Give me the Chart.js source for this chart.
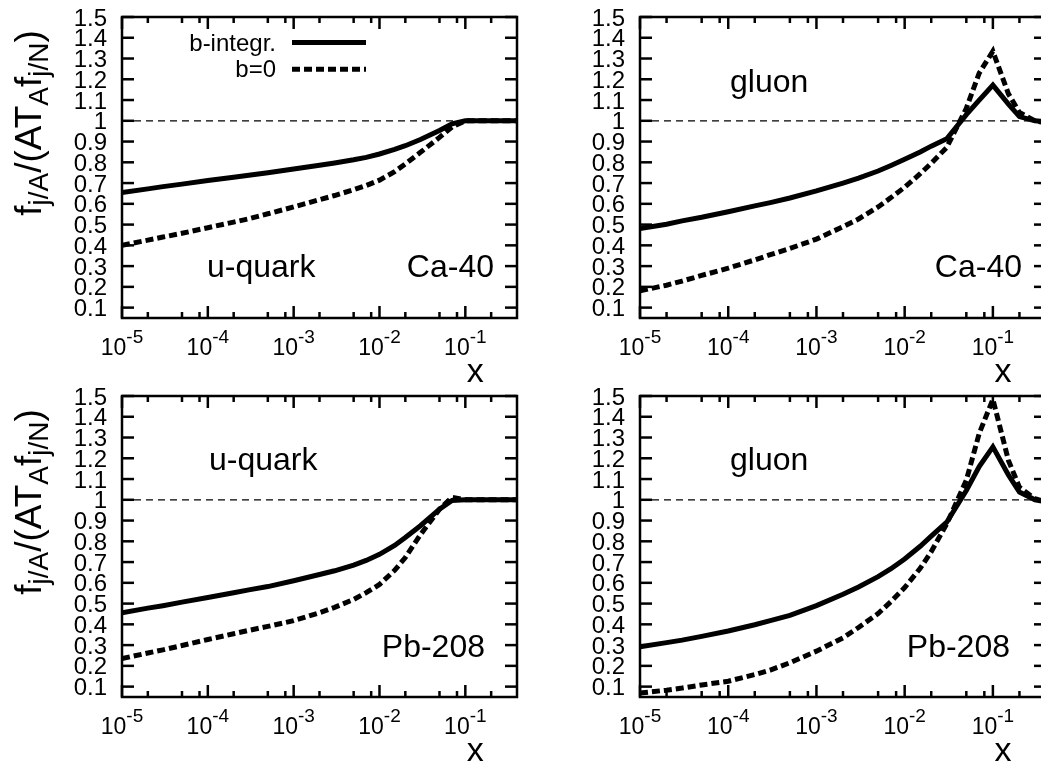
<!DOCTYPE html>
<html>
<head>
<meta charset="utf-8">
<script src="https://cdn.jsdelivr.net/npm/chart.js@4"></script>
<style>
  html, body { margin: 0; padding: 0; background: #fff; overflow: hidden; width: 1041px; height: 763px; }
  canvas { position: absolute; left: 0; top: 0; }
</style>
</head>
<body>
<canvas id="uCa" width="1080" height="763"></canvas>
<canvas id="gCa" width="1080" height="763"></canvas>
<canvas id="uPb" width="1080" height="763"></canvas>
<canvas id="gPb" width="1080" height="763"></canvas>
<script>
// x grid shared by all curves
const xVals = [1e-5, 2e-5, 3e-5, 5e-5, 1e-4, 2e-4, 3e-4, 5e-4, 1e-3, 2e-3, 3e-3, 5e-3, 7e-3, 1e-2, 1.5e-2, 2e-2, 3e-2, 5e-2, 7e-2, 0.1, 0.15, 0.2, 0.3, 0.4];

// u-quark, Ca-40
const uCaIntegr = [0.655, 0.672, 0.683, 0.695, 0.712, 0.728, 0.738, 0.750, 0.768, 0.786, 0.797, 0.812, 0.824, 0.840, 0.862, 0.880, 0.910, 0.953, 0.985, 1.0, 1.0, 1.0, 1.0, 1.0];
const uCaB0     = [0.400, 0.425, 0.440, 0.458, 0.485, 0.512, 0.528, 0.552, 0.585, 0.620, 0.640, 0.668, 0.688, 0.714, 0.755, 0.792, 0.848, 0.920, 0.970, 1.0, 1.0, 1.0, 1.0, 1.0];
// gluon, Ca-40
const gCaIntegr = [0.481, 0.502, 0.518, 0.535, 0.562, 0.590, 0.606, 0.628, 0.662, 0.700, 0.724, 0.758, 0.785, 0.815, 0.850, 0.878, 0.913, 1.030, 1.100, 1.172, 1.080, 1.020, 1.0, 0.995];
const gCaB0     = [0.181, 0.208, 0.228, 0.255, 0.290, 0.330, 0.355, 0.385, 0.430, 0.490, 0.527, 0.585, 0.630, 0.680, 0.745, 0.795, 0.872, 1.060, 1.230, 1.335, 1.130, 1.040, 1.0, 0.99];
// u-quark, Pb-208
const uPbIntegr = [0.456, 0.478, 0.490, 0.507, 0.529, 0.552, 0.566, 0.582, 0.610, 0.640, 0.658, 0.685, 0.708, 0.737, 0.780, 0.818, 0.875, 0.955, 0.997, 1.0, 1.0, 1.0, 1.0, 1.0];
const uPbB0     = [0.235, 0.262, 0.277, 0.298, 0.327, 0.355, 0.371, 0.390, 0.418, 0.456, 0.482, 0.520, 0.553, 0.592, 0.660, 0.722, 0.832, 0.955, 1.012, 1.0, 1.0, 1.0, 1.0, 1.0];
// gluon, Pb-208
const gPbIntegr = [0.292, 0.312, 0.324, 0.342, 0.368, 0.398, 0.418, 0.443, 0.490, 0.545, 0.580, 0.630, 0.668, 0.715, 0.776, 0.825, 0.892, 1.045, 1.160, 1.255, 1.120, 1.037, 1.0, 0.99];
const gPbB0     = [0.069, 0.083, 0.093, 0.108, 0.126, 0.158, 0.180, 0.215, 0.271, 0.335, 0.385, 0.452, 0.510, 0.577, 0.670, 0.750, 0.884, 1.094, 1.320, 1.484, 1.190, 1.060, 1.005, 0.99];

// reference line at 1
const refX = [1e-5, 0.4];
const refY = [1, 1];

// axes
const xMin = 1e-5, xMax = 0.4, yMin = 0.05, yMax = 1.5;
const yTicks = [0.1, 0.2, 0.3, 0.4, 0.5, 0.6, 0.7, 0.8, 0.9, 1.0, 1.1, 1.2, 1.3, 1.4, 1.5];
const yTickLabels = ['0.1', '0.2', '0.3', '0.4', '0.5', '0.6', '0.7', '0.8', '0.9', '1', '1.1', '1.2', '1.3', '1.4', '1.5'];
const xMajor = [1e-5, 1e-4, 1e-3, 1e-2, 1e-1];
const xMajorExp = ['-5', '-4', '-3', '-2', '-1'];
const xMinorMant = [2, 5, 8];

const legendNames = ['b-integr.', 'b=0'];

const FONT = "'Liberation Sans', Arial, Helvetica, sans-serif";

function pts(xs, ys) {
  return xs.map((x, i) => ({ x: x, y: ys[i] }));
}

function seg(ctx, x1, y1, x2, y2) {
  ctx.beginPath();
  ctx.moveTo(x1, y1);
  ctx.lineTo(x2, y2);
  ctx.stroke();
}

// border, inward ticks, tick labels, titles, notes
const framePlugin = {
  id: 'frame',
  afterDatasetsDraw(chart, args, o) {
    const { ctx, chartArea: a, scales: { x, y } } = chart;
    ctx.save();
    ctx.strokeStyle = '#000';
    ctx.fillStyle = '#000';
    ctx.lineWidth = 2.5;
    ctx.setLineDash([]);
    ctx.lineCap = 'butt';
    ctx.strokeRect(a.left, a.top, a.right - a.left, a.bottom - a.top);

    // y ticks + labels
    ctx.font = `24px ${FONT}`;
    ctx.textAlign = 'right';
    ctx.textBaseline = 'alphabetic';
    yTicks.forEach((v, i) => {
      const py = y.getPixelForValue(v);
      seg(ctx, a.left, py, a.left + 12, py);
      seg(ctx, a.right - 12, py, a.right, py);
      ctx.fillText(yTickLabels[i], a.left - 15, py + 8.5);
    });

    // x major ticks + labels
    xMajor.forEach((v, i) => {
      const px = x.getPixelForValue(v);
      seg(ctx, px, a.bottom, px, a.bottom - 12);
      seg(ctx, px, a.top, px, a.top + 12);
      ctx.font = `23px ${FONT}`;
      const w1 = ctx.measureText('10').width;
      ctx.font = `19px ${FONT}`;
      const w2 = ctx.measureText(xMajorExp[i]).width;
      const x0 = px - (w1 + w2) / 2;
      ctx.textAlign = 'left';
      ctx.font = `23px ${FONT}`;
      ctx.fillText('10', x0, a.bottom + 37);
      ctx.font = `19px ${FONT}`;
      ctx.fillText(xMajorExp[i], x0 + w1, a.bottom + 25);
    });

    // x minor ticks
    xMajor.forEach(d => {
      xMinorMant.forEach(m => {
        const v = d * m;
        if (v > xMax) return;
        const px = x.getPixelForValue(v);
        seg(ctx, px, a.bottom, px, a.bottom - 6);
        seg(ctx, px, a.top, px, a.top + 6);
      });
    });

    // x axis title
    ctx.textAlign = 'center';
    ctx.font = `34px ${FONT}`;
    ctx.fillText('x', x.getPixelForValue(0.1) + 10, a.bottom + 64);

    // notes inside the frame
    ctx.font = `32px ${FONT}`;
    (o.notes || []).forEach(n => {
      ctx.textAlign = n.align;
      ctx.fillText(n.text, n.x, n.y);
    });

    // y axis title (left column only)
    if (o.yTitle) {
      const parts = [['f', 0], ['j/A', 1], ['/(AT', 0], ['A', 1], ['f', 0], ['j/N', 1], [')', 0]];
      const big = `37px ${FONT}`, small = `28px ${FONT}`;
      let total = 0;
      parts.forEach(p => { ctx.font = p[1] ? small : big; total += ctx.measureText(p[0]).width; });
      ctx.save();
      ctx.translate(41, a.top + 106);
      ctx.rotate(-Math.PI / 2);
      ctx.textAlign = 'left';
      let cx = -total / 2;
      parts.forEach(p => {
        ctx.font = p[1] ? small : big;
        ctx.fillText(p[0], cx, p[1] ? 7 : 0);
        cx += ctx.measureText(p[0]).width;
      });
      ctx.restore();
    }

    // key
    if (o.key) {
      ctx.font = `24px ${FONT}`;
      ctx.textAlign = 'right';
      const rows = [{ y: 42.5, dash: [] }, { y: 69.3, dash: [8, 4] }];
      rows.forEach((r, i) => {
        ctx.fillText(legendNames[i], 276, r.y + 8);
        ctx.lineWidth = 5;
        ctx.setLineDash(r.dash);
        seg(ctx, 292, r.y, 366, r.y);
      });
    }
    ctx.restore();
  }
};

function makePanel(id, solid, dotted, pad, notes, yTitle, key) {
  return new Chart(document.getElementById(id), {
    type: 'line',
    data: {
      datasets: [
        { label: legendNames[0], data: pts(xVals, solid), borderColor: '#000', borderWidth: 5, pointRadius: 0, tension: 0, fill: false },
        { label: legendNames[1], data: pts(xVals, dotted), borderColor: '#000', borderWidth: 5, borderDash: [8, 4], pointRadius: 0, tension: 0, fill: false },
        { label: 'ref', data: pts(refX, refY), borderColor: '#000', borderWidth: 1.2, borderDash: [7, 5], pointRadius: 0, fill: false }
      ]
    },
    options: {
      responsive: false,
      animation: false,
      devicePixelRatio: 1,
      layout: { padding: pad },
      scales: {
        x: { type: 'logarithmic', min: xMin, max: xMax, display: false },
        y: { type: 'linear', min: yMin, max: yMax, display: false }
      },
      plugins: {
        legend: { display: false },
        tooltip: { enabled: false },
        frame: { notes: notes, yTitle: yTitle, key: key }
      }
    },
    plugins: [framePlugin]
  });
}

const W = 1080, H = 763;
makePanel('uCa', uCaIntegr, uCaB0,
  { left: 122, top: 17, right: W - 517, bottom: H - 318 },
  [{ text: 'u-quark', x: 207, y: 277, align: 'left' }, { text: 'Ca-40', x: 494, y: 277, align: 'right' }],
  true, true);
makePanel('gCa', gCaIntegr, gCaB0,
  { left: 640, top: 17, right: W - 1046, bottom: H - 318 },
  [{ text: 'gluon', x: 730, y: 92, align: 'left' }, { text: 'Ca-40', x: 1022, y: 277, align: 'right' }],
  false, false);
makePanel('uPb', uPbIntegr, uPbB0,
  { left: 122, top: 396, right: W - 517, bottom: H - 697 },
  [{ text: 'u-quark', x: 209, y: 470, align: 'left' }, { text: 'Pb-208', x: 485, y: 657, align: 'right' }],
  true, false);
makePanel('gPb', gPbIntegr, gPbB0,
  { left: 640, top: 396, right: W - 1046, bottom: H - 697 },
  [{ text: 'gluon', x: 730, y: 470, align: 'left' }, { text: 'Pb-208', x: 1010, y: 657, align: 'right' }],
  false, false);
</script>
</body>
</html>
